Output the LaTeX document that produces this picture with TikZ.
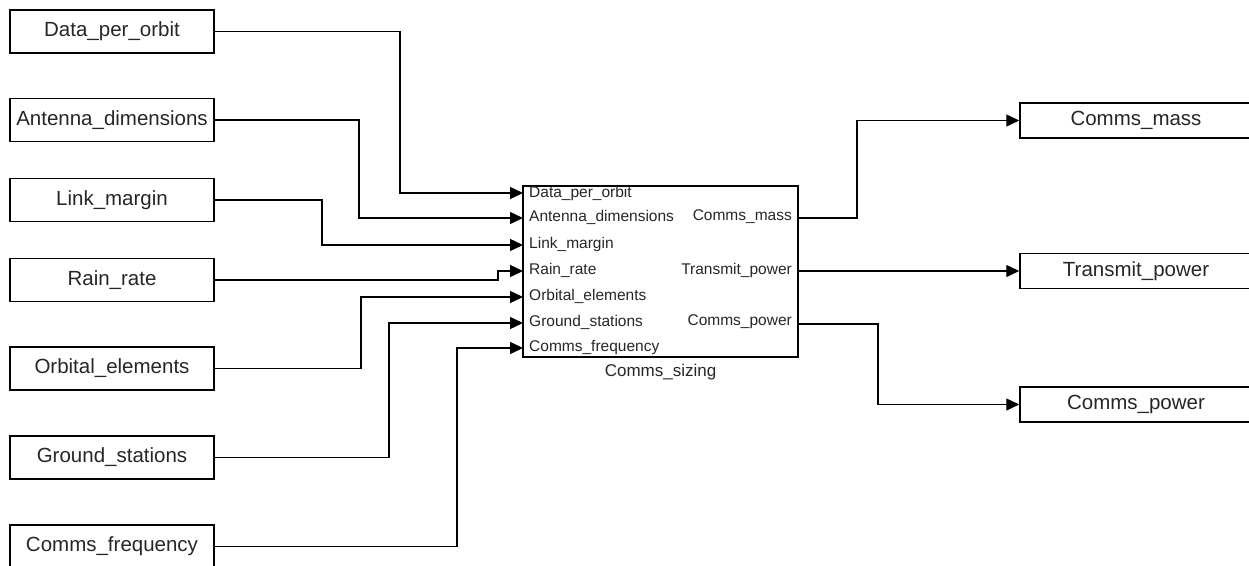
\documentclass[tikz,border=0pt]{standalone}
\usepackage{fontspec}
\setmainfont{Liberation Sans}
\usetikzlibrary{arrows.meta}
\begin{document}
\begin{tikzpicture}[x=1pt,y=-1pt,
  inbox/.style={draw=black,line width=1.5pt,minimum width=204pt,minimum height=43pt,inner sep=0pt,
    font=\fontsize{20.5}{24}\selectfont,text=black!85},
  outbox/.style={draw=black,line width=1.5pt,minimum width=232pt,minimum height=35pt,inner sep=0pt,
    font=\fontsize{20.5}{24}\selectfont,text=black!85},
  blockbox/.style={draw=black,line width=1.5pt,minimum width=275pt,minimum height=171pt,inner sep=0pt},
  port/.style={font=\fontsize{15.5}{18}\selectfont,inner sep=0pt,text=black!85},
  wire/.style={line width=1.4pt,-{Triangle[length=13pt,width=12pt]}},
  plainwire/.style={line width=1.4pt}
]
\useasboundingbox (0,0) rectangle (1249,565);

% input boxes
\node[inbox] (dpo) at (112,31.5) {Data\_per\_orbit};
\node[inbox] (ad)  at (112,120)  {Antenna\_dimensions};
\node[inbox] (lm)  at (112,200)  {Link\_margin};
\node[inbox] (rr)  at (112,280)  {Rain\_rate};
\node[inbox] (oe)  at (112,368.5) {Orbital\_elements};
\node[inbox] (gs)  at (112,457.5) {Ground\_stations};
\node[inbox] (cf)  at (112,546.5) {Comms\_frequency};

% output boxes
\node[outbox] (cm) at (1136,120.5) {Comms\_mass};
\node[outbox] (tp) at (1136,271)   {Transmit\_power};
\node[outbox] (cp) at (1136,404.5) {Comms\_power};

% central block
\node[blockbox] (blk) at (660.5,271.5) {};
\node[font=\fontsize{17}{20}\selectfont,text=black!85,inner sep=0pt] (blklbl) at (660.5,372) {Comms\_sizing};

% ports
\coordinate (i1) at (523,193);
\coordinate (i2) at (523,218);
\coordinate (i3) at (523,245);
\coordinate (i4) at (523,271);
\coordinate (i5) at (523,297);
\coordinate (i6) at (523,323);
\coordinate (i7) at (523,348);
\coordinate (o1) at (798,218);
\coordinate (o2) at (798,271);
\coordinate (o3) at (798,324);

\node[port,anchor=west] (l1) at (529,193) {Data\_per\_orbit};
\node[port,anchor=west] (l2) at (529,217) {Antenna\_dimensions};
\node[port,anchor=west] (l3) at (529,244) {Link\_margin};
\node[port,anchor=west] (l4) at (529,270) {Rain\_rate};
\node[port,anchor=west] (l5) at (529,296) {Orbital\_elements};
\node[port,anchor=west] (l6) at (529,322) {Ground\_stations};
\node[port,anchor=west] (l7) at (529,347) {Comms\_frequency};
\node[port,anchor=east] (r1) at (792,217) {Comms\_mass};
\node[port,anchor=east] (r2) at (792,270) {Transmit\_power};
\node[port,anchor=east] (r3) at (792,322) {Comms\_power};

% input connectors
\draw[wire] (dpo.east) -| (400,193) -- (i1);
\draw[wire] (ad.east)  -| (359,218) -- (i2);
\draw[wire] (lm.east)  -| (322,245) -- (i3);
\draw[wire] (rr.east)  -| (498,271) -- (i4);
\draw[wire] (oe.east)  -| (361,297) -- (i5);
\draw[wire] (gs.east)  -| (389,323) -- (i6);
\draw[wire] (cf.east)  -| (457,348) -- (i7);

% output connectors
\draw[wire] (o1) -| (857,120.5) -- (cm.west);
\draw[wire] (o2) -- (tp.west);
\draw[wire] (o3) -| (878,404.5) -- (cp.west);
\end{tikzpicture}
\end{document}
